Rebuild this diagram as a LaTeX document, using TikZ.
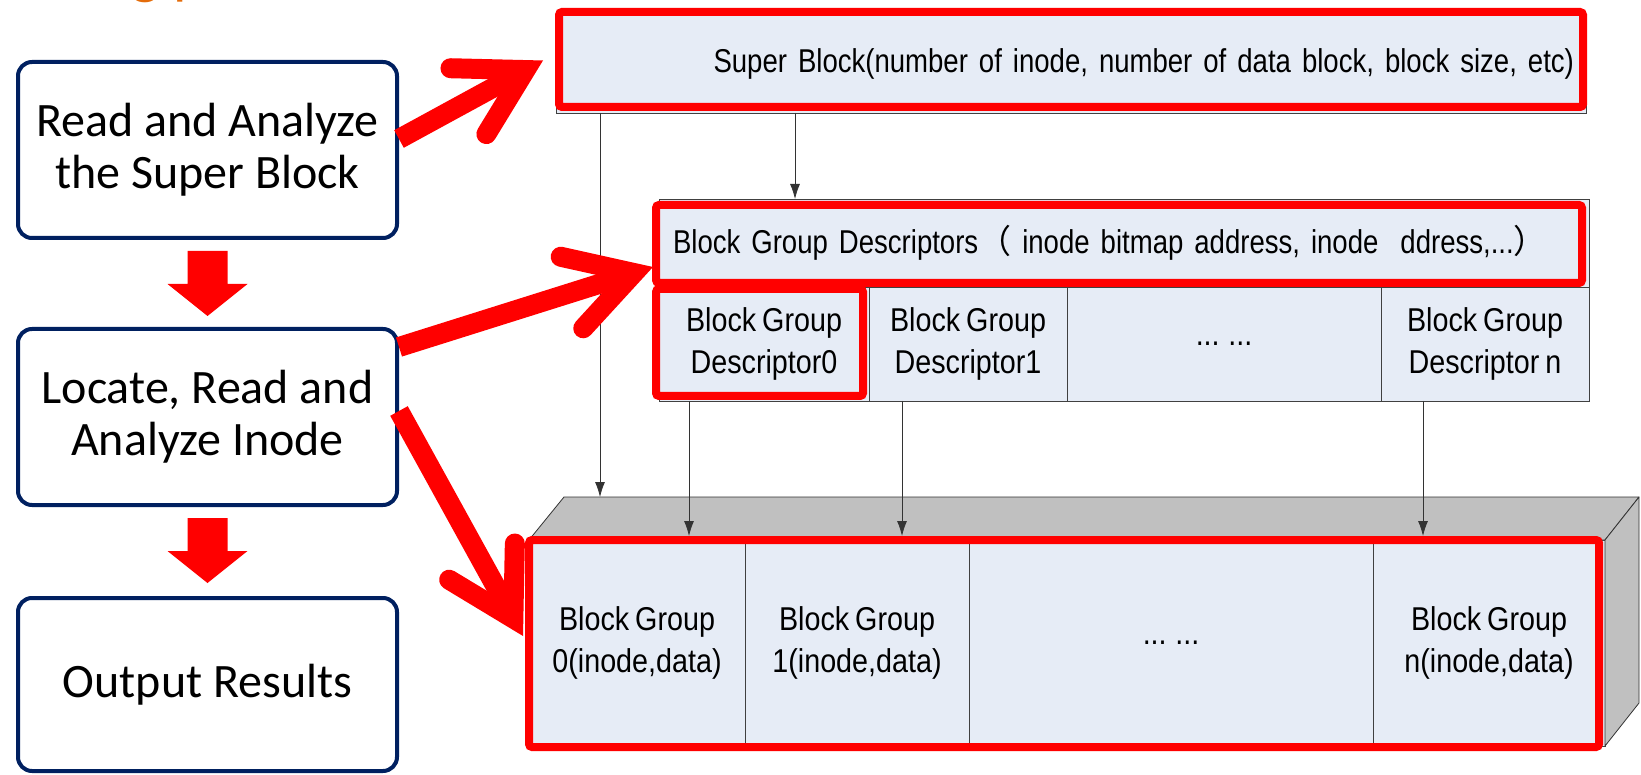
\documentclass[tikz,border=0pt]{standalone}
\usepackage{fontspec}
\setmainfont{Carlito}
\newfontfamily\arialfont{Liberation Sans}[FakeStretch=0.87, WordSpace=0.75]
\newfontfamily\arialtight{Liberation Sans}[FakeStretch=0.835, WordSpace=0.75]
\newfontfamily\cjkfont{Noto Sans CJK SC}
\usetikzlibrary{arrows.meta,positioning,calc}

\definecolor{stepnavy}{HTML}{002060}
\definecolor{cellblue}{HTML}{E6ECF6}
\definecolor{markred}{HTML}{FF0000}
\definecolor{slabgray}{HTML}{C0C0C0}
\definecolor{titleorange}{HTML}{E46C0A}

\tikzset{
  stepbox/.style={draw=stepnavy, line width=4pt, rounded corners=14pt, minimum width=379pt, minimum height=176pt, align=center, font=\fontsize{48}{52}\selectfont},
  cell/.style={draw=black!75, line width=0.8pt, fill=cellblue, inner sep=0pt, outer sep=0pt, align=center, font=\arialfont\fontsize{33}{42}\selectfont},
  hilite/.style={draw=markred, line width=8pt, rounded corners=3pt},
  slab/.style={fill=slabgray, draw=black!80, line width=0.8pt, line join=round},
  link/.style={draw=black!80, line width=0.8pt, -{Latex[length=15pt,width=10pt]}},
  fatline/.style={draw=markred, line width=20pt},
  flowdown/.style={fill=markred},
}

% thick open red arrow: #1 start, #2 tip
\newcommand{\fatarrow}[2]{%
  \coordinate (fa-v) at ($(#2)!20pt!(#1)$);
  \draw[fatline] (#1) -- (fa-v);
  \draw[fatline, line cap=round, line join=miter] ($(fa-v)!75pt!30:(#1)$) -- (fa-v) -- ($(fa-v)!75pt!-30:(#1)$);
}

\begin{document}
\begin{tikzpicture}[x=1pt, y=-1pt]
    \useasboundingbox (0,0) rectangle (1641,775);

    % Title (cut off at the top)
    \node[anchor=base west, inner sep=0pt, text=titleorange, font=\fontsize{60}{72}\selectfont] (ttl) at (131,-7) {g p};

    % Steps
    \node[stepbox] (readsb) at (207.5,150) {Read and Analyze\\the Super Block};
    \node[stepbox, below=87pt of readsb] (inode) {Locate, Read and\\Analyze Inode};
    \node[stepbox, minimum height=173pt, below=89pt of inode] (output) {Output Results};

    \foreach \b in {readsb, inode}
        \fill[flowdown] ($(\b.south)+(-20,11)$) -- ++(40,0) -- ++(0,33) -- ++(20,0) -- ++(-40,32) -- ++(-40,-32) -- ++(20,0) -- cycle;

    % Super block
    \node[cell, font=\arialtight\fontsize{33}{42}\selectfont, minimum width=1030pt, minimum height=99pt, text width=1006pt, align=right] (superblk) at (1071,63.5) {Super Block(number of inode, number of data block, block size, etc)};
    \draw[hilite] ($(superblk.north west)+(3,-2)$) rectangle ($(superblk.south east)+(-3,-6)$);

    % Block group descriptors
    \node[cell, font=\arialtight\fontsize{33}{42}\selectfont, minimum width=930pt, minimum height=88pt, text width=902pt, align=left] (bgdhead) at (1124,243) {\mbox{Block Group Descriptors{\cjkfont （} inode bitmap address, inode\ \ ddress,...{\cjkfont ）}}};
    \node[cell, minimum width=210pt, minimum height=114pt, anchor=north west] (dcell0) at (bgdhead.south west) {Block Group\\Descriptor0};
    \node[cell, minimum width=198pt, minimum height=114pt, right=0pt of dcell0] (dcell1) {Block Group\\Descriptor1};
    \node[cell, minimum width=314pt, minimum height=114pt, right=0pt of dcell1] (ddots) {... ...};
    \node[cell, minimum width=208pt, minimum height=114pt, right=0pt of ddots] (dcelln) {Block Group\\Descriptor n};
    \draw[hilite] ($(bgdhead.north west)+(-3,6)$) rectangle ($(bgdhead.south east)+(-7,-4)$);
    \draw[hilite] ($(dcell0.north west)+(-3,2)$) rectangle ($(dcell0.south east)+(-6,-5)$);

    % Block groups (slab)
    \node[cell, minimum width=216pt, minimum height=206pt, anchor=north west] (fcell0) at (529,540) {Block Group\\0(inode,data)};
    \node[cell, minimum width=224pt, minimum height=206pt, right=0pt of fcell0] (fcell1) {Block Group\\1(inode,data)};
    \node[cell, minimum width=404pt, minimum height=206pt, right=0pt of fcell1] (fdots) {... ...};
    \node[cell, minimum width=232pt, minimum height=206pt, right=0pt of fdots] (fcelln) {Block Group\\n(inode,data)};
    \filldraw[slab] (fcell0.north west) -- ++(35,-43) -- ($(fcelln.north east)+(34,-43)$) -- (fcelln.north east) -- cycle;
    \filldraw[slab] (fcelln.north east) -- ++(34,-43) -- ++(0,206) -- (fcelln.south east) -- cycle;
    \draw[hilite] (fcell0.north west) rectangle ($(fcelln.south east)+(-6,1)$);

    % Thin links
    \coordinate (slabtop) at ($(fcell0.north west)+(71,-43)$);
    \draw[link] ($(superblk.south west)+(44,0)$) -- (slabtop);
    \draw[link] ($(superblk.south west)+(239,0)$) -- ($(bgdhead.north west)+(136,0)$);
    \foreach \c/\dx in {dcell0/-75, dcell1/-66, dcelln/-62} {
        \coordinate (\c-b) at ($(\c.south)+(\dx,0)$);
        \draw[link, shorten >=4pt] (\c-b) -- (\c-b |- fcell0.north);
    }

    % Red pointers
    \coordinate (fa1s) at ($(readsb.east)+(0,-11)$);
    \coordinate (fa1t) at ($(superblk.west)+(-13,-3)$);
    \fatarrow{fa1s}{fa1t}
    \coordinate (fa2s) at ($(inode.north east)+(0,20)$);
    \coordinate (fa2t) at ($(bgdhead.south west)+(-6,-20)$);
    \fatarrow{fa2s}{fa2t}
    \coordinate (fa3s) at ($(inode.east)+(0,-6)$);
    \coordinate (fa3t) at ($(fcell0.west)+(-6,-7)$);
    \fatarrow{fa3s}{fa3t}
\end{tikzpicture}
\end{document}
